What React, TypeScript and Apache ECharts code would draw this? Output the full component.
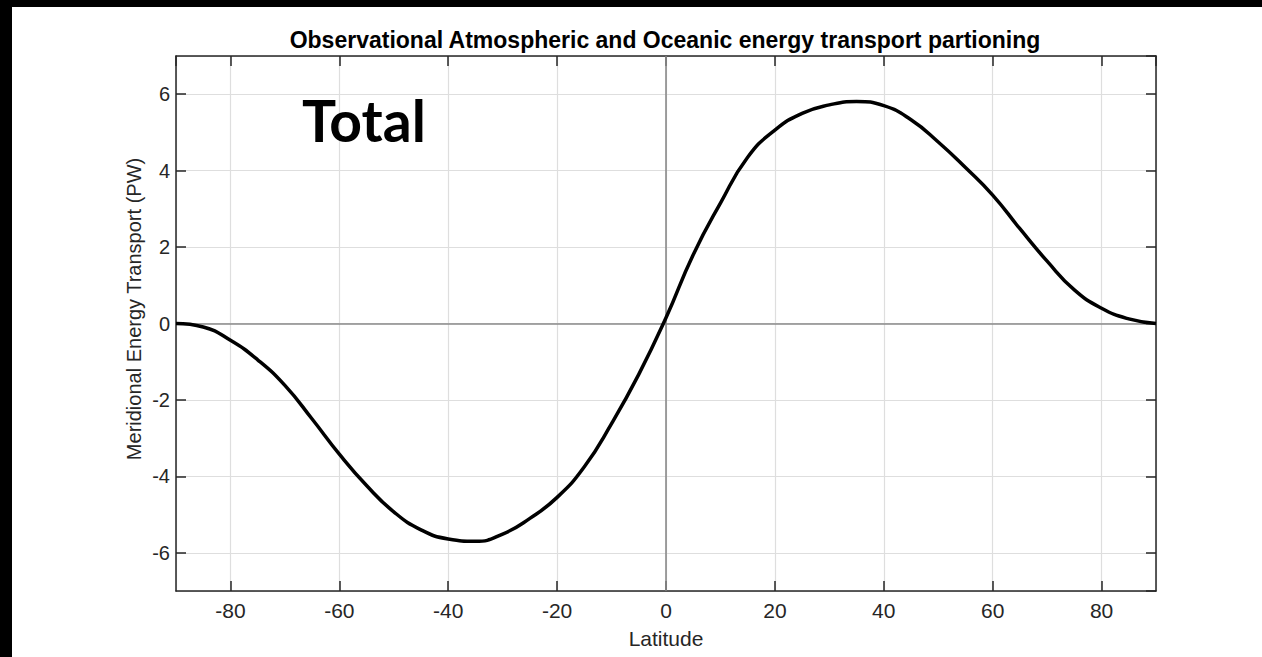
import React, { useEffect, useRef } from "react";
import * as echarts from "echarts";

const latitudes = [
  -90, -85, -80, -75, -70, -65, -60, -55, -50, -45, -40, -35, -30, -25, -20, -15, -10, -5,
  0, 5, 10, 15, 20, 25, 30, 35, 40, 45, 50, 55, 60, 65, 70, 75, 80, 85, 90,
];
const totalTransport = [
  0, -0.09, -0.44, -0.95, -1.62, -2.5, -3.42, -4.24, -4.93, -5.4, -5.64, -5.7, -5.51, -5.1,
  -4.55, -3.75, -2.62, -1.33, 0.15, 1.8, 3.15, 4.35, 5.06, 5.5, 5.72, 5.81, 5.7, 5.33, 4.75,
  4.08, 3.36, 2.48, 1.63, 0.88, 0.4, 0.12, 0,
];
const xTicks = { min: -90, max: 90, step: 20 };
const yTicks = { min: -7, max: 7, step: 2 };

const titleText = "Observational Atmospheric and Oceanic energy transport partioning";
const xName = "Latitude";
const yName = "Meridional Energy Transport (PW)";
const panelLabel = "Total";

const FONT = "'Liberation Sans', Arial, sans-serif";
const AX = "#262626";

export default function App() {
  const ref = useRef<HTMLDivElement>(null);
  useEffect(() => {
    document.body.style.margin = "0";
    const chart = echarts.init(ref.current!, null, { renderer: "svg" });
    const data = latitudes.map((x, i) => [x, totalTransport[i]]);
    const baseX = {
      type: "value",
      min: xTicks.min,
      max: xTicks.max,
      splitNumber: 9,
      minInterval: xTicks.step,
      maxInterval: xTicks.step,
      axisLine: { show: true, onZero: false, lineStyle: { color: AX, width: 1.5 } },
      axisTick: { show: true, inside: true, length: 10, lineStyle: { color: AX, width: 1.5 } },
    };
    const baseY = {
      type: "value",
      min: yTicks.min,
      max: yTicks.max,
      splitNumber: 7,
      minInterval: yTicks.step,
      maxInterval: yTicks.step,
      axisLine: { show: true, onZero: false, lineStyle: { color: AX, width: 1.5 } },
      axisTick: { show: true, inside: true, length: 10, lineStyle: { color: AX, width: 1.5 } },
    };
    chart.setOption({
      animation: false,
      backgroundColor: "#ffffff",
      grid: { left: 176, top: 56, right: 106, bottom: 66, containLabel: false },
      xAxis: [
        {
          ...baseX,
          position: "bottom",
          axisLabel: {
            show: true,
            margin: 9,
            color: AX,
            fontFamily: FONT,
            fontSize: 21,
            showMinLabel: false,
            showMaxLabel: false,
          },
          splitLine: { show: true, lineStyle: { color: "#dedede", width: 1.2 } },
        },
        {
          ...baseX,
          position: "top",
          axisLabel: { show: false },
          splitLine: { show: false },
        },
      ],
      yAxis: [
        {
          ...baseY,
          position: "left",
          axisLabel: {
            show: true,
            margin: 6,
            color: AX,
            fontFamily: FONT,
            fontSize: 20,
            showMinLabel: false,
            showMaxLabel: false,
          },
          splitLine: { show: true, lineStyle: { color: "#dedede", width: 1.2 } },
        },
        {
          ...baseY,
          position: "right",
          axisLabel: { show: false },
          splitLine: { show: false },
        },
      ],
      series: [
        {
          type: "line",
          xAxisIndex: 0,
          yAxisIndex: 0,
          data,
          smooth: 0.5,
          showSymbol: false,
          symbol: "none",
          z: 10,
          lineStyle: { color: "#000000", width: 3.5 },
          markLine: {
            silent: true,
            symbol: "none",
            z: 3,
            label: { show: false },
            lineStyle: { color: "#8a8a8a", width: 1.6, type: "solid" },
            data: [{ yAxis: 0 }, { xAxis: 0 }],
          },
        },
      ],
      graphic: [
        { type: "rect", shape: { x: 0, y: 0, width: 1262, height: 7 }, style: { fill: "#000" } },
        { type: "rect", shape: { x: 0, y: 0, width: 12, height: 657 }, style: { fill: "#000" } },
        {
          type: "text",
          x: 665,
          y: 40,
          style: {
            text: titleText,
            font: `bold 23px ${FONT}`,
            fill: "#000",
            align: "center",
            verticalAlign: "middle",
          },
        },
        {
          type: "text",
          x: 666,
          y: 638,
          style: {
            text: xName,
            font: `21px ${FONT}`,
            fill: AX,
            align: "center",
            verticalAlign: "middle",
          },
        },
        {
          type: "text",
          x: 134,
          y: 309,
          rotation: Math.PI / 2,
          style: {
            text: yName,
            font: `20px ${FONT}`,
            fill: AX,
            align: "center",
            verticalAlign: "middle",
          },
        },
        {
          type: "text",
          x: 302,
          y: 120,
          z: 20,
          style: {
            text: panelLabel,
            font: `bold 57px Lato, 'Open Sans', sans-serif`,
            fill: "#000",
            align: "left",
            verticalAlign: "middle",
          },
        },
      ],
    });
    return () => chart.dispose();
  }, []);
  return (
    <div
      ref={ref}
      style={{ position: "absolute", left: 0, top: 0, width: 1262, height: 657 }}
    />
  );
}
